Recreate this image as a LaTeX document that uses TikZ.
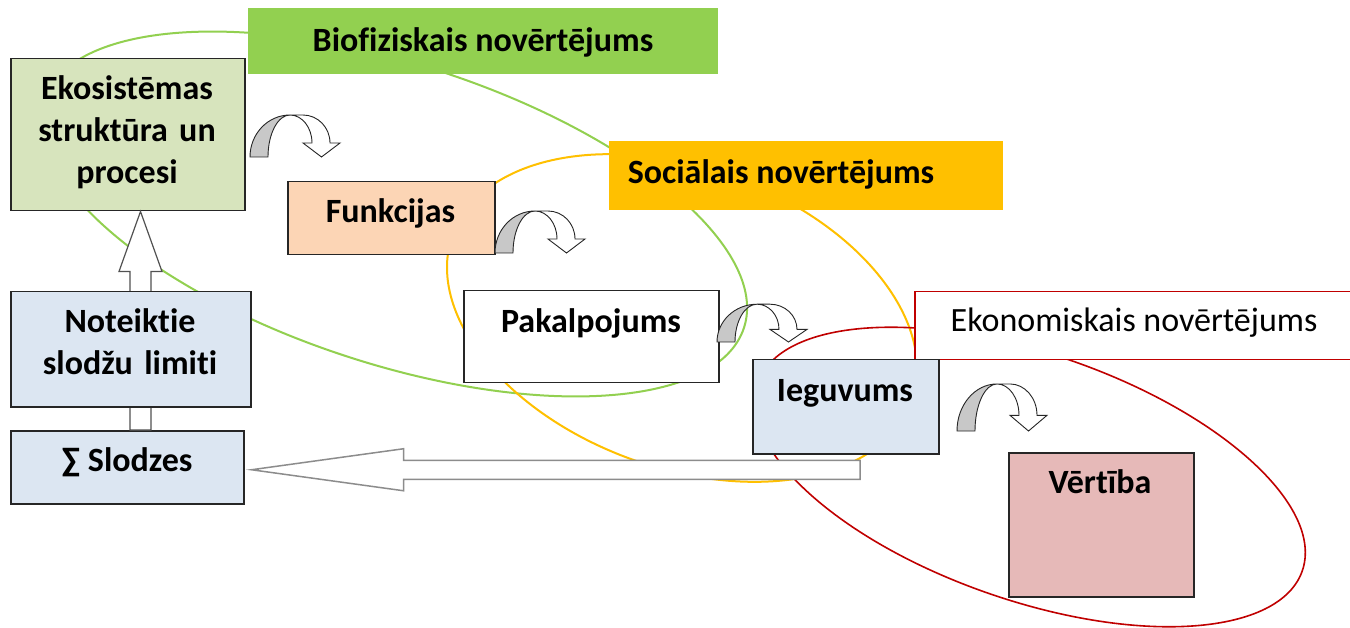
\documentclass[tikz,border=0pt]{standalone}
\usepackage{fontspec}
\setmainfont{Carlito}[Ligatures={NoCommon}]
\usetikzlibrary{calc}

\definecolor{bioG}{HTML}{92D050}
\definecolor{socO}{HTML}{FFC000}
\definecolor{ekoR}{HTML}{C00000}
\definecolor{ekoFill}{HTML}{D7E4BD}
\definecolor{funFill}{HTML}{FCD5B5}
\definecolor{blueFill}{HTML}{DCE6F2}
\definecolor{vertFill}{HTML}{E6B9B8}
\definecolor{edge}{HTML}{262626}
\definecolor{turnGray}{HTML}{C8C8C8}
\definecolor{shaftGray}{HTML}{8C8C8C}

\tikzset{
  box/.style={rectangle, draw=edge, line width=1.5pt, inner sep=0pt, anchor=north west},
  flatbox/.style={rectangle, inner sep=0pt, anchor=north west},
  lbl/.style={font=\bfseries\fontsize{34}{42}\selectfont, inner sep=0pt, anchor=base},
  plainlbl/.style={font=\fontsize{34}{42}\selectfont, inner sep=0pt, anchor=base},
  ring/.style={line width=2pt},
  blockarrow/.style={draw=shaftGray, line width=1.5pt, fill=white, line join=miter},
  turnline/.style={draw=edge, line width=0.9pt},
  turn/.pic={
    % shaded back face of the bent arrow
    \filldraw[turnline, fill=turnGray]
      (0,0) arc[start angle=180, end angle=270, x radius=40, y radius=42]
            arc[start angle=270, end angle=180, x radius=22, y radius=42] -- cycle;
    % front face with its head
    \filldraw[turnline, fill=white]
      (40,-42) -- (53,-42)
      arc[start angle=270, end angle=360, x radius=27, y radius=28]
      -- (90,-14) -- (71.5,0) -- (53,-14) -- (62,-14)
      arc[start angle=0, end angle=-90, x radius=22, y radius=28] -- cycle;
  }
}

\begin{document}
\begin{tikzpicture}[x=1pt, y=-1pt]
\useasboundingbox (0,0) rectangle (1350,628);
\fill[white] (0,0) rectangle (1350,628);

% assessment rings
\draw[ring, bioG, rotate around={-18:(394,214)}] (394,214) ellipse [x radius=368, y radius=150];
\draw[ring, socO, rotate around={-20:(682,318)}] (682,318) ellipse [x radius=244, y radius=150];
\draw[ring, ekoR, line width=1.6pt, rotate around={-19:(1030,477)}] (1030,477) ellipse [x radius=288, y radius=123.5];

% boxes
\node[flatbox, fill=bioG, minimum width=470pt, minimum height=66pt] (bio) at (248,8) {};
\node[flatbox, fill=socO, minimum width=394pt, minimum height=69pt] (soc) at (609,141) {};
\node[box, draw=ekoR, fill=white, minimum width=436pt, minimum height=68pt] (eko-n) at (914,291) {};
\node[box, fill=ekoFill, minimum width=234pt, minimum height=152pt] (eko) at (10,58) {};
\node[box, fill=funFill, minimum width=207pt, minimum height=73pt] (fun) at (287,181) {};
\node[box, fill=white, minimum width=255pt, minimum height=92pt] (pak) at (463,290) {};
\node[box, fill=blueFill, minimum width=186pt, minimum height=94pt] (ieg) at (752,359) {};
\node[box, fill=vertFill, minimum width=185pt, minimum height=144pt] (ver) at (1008,452) {};
\node[box, fill=blueFill, minimum width=233pt, minimum height=73pt] (slo) at (10,430) {};

% load arrows
\coordinate (utip) at (140.5,0 |- eko.south);
\coordinate (utail) at (140.5,0 |- slo.north);
\draw[blockarrow, draw=edge!80, line width=1.2pt]
  (utip) -- ($(utip)+(21.5,60)$) -- ($(utip)+(10.5,60)$) -- ($(utail)+(10.5,0)$)
  -- ($(utail)+(-10.5,0)$) -- ($(utip)+(-10.5,60)$) -- ($(utip)+(-21.5,60)$) -- cycle;
\node[box, fill=blueFill, minimum width=240pt, minimum height=115pt] (lim) at (10,291) {};

\coordinate (ltip) at ($(slo.east)+(7,2.5)$);
\coordinate (ltail) at (860,0 |- ltip);
\draw[blockarrow]
  (ltip) -- ($(ltip)+(152,-21)$) -- ($(ltip)+(152,-9.5)$) -- ($(ltail)+(0,-9.5)$)
  -- ($(ltail)+(0,9.5)$) -- ($(ltip)+(152,9.5)$) -- ($(ltip)+(152,21)$) -- cycle;

% step arrows
\pic at (250,157) {turn};
\pic at (495,253) {turn};
\pic[yscale=0.9] at (717,342) {turn};
\pic[yscale=1.12] at (957,431) {turn};

% labels
\node[lbl] (bio-l) at (483,52) {Biofiziskais novērtējums};
\node[lbl] (soc-l) at (781,184) {Sociālais novērtējums};
\node[plainlbl] (eko-n-l) at (1134,332) {Ekonomiskais novērtējums};
\node[lbl, text width=234pt, align=center] (eko-l) at (127,100) {Ekosistēmas\\struktūra un\\procesi};
\node[lbl] (fun-l) at (390.5,223) {Funkcijas};
\node[lbl] (pak-l) at (591,333) {Pakalpojums};
\node[lbl] (ieg-l) at (845,402) {Ieguvums};
\node[lbl] (ver-l) at (1100,493) {Vērtība};
\node[lbl, text width=240pt, align=center] (lim-l) at (130,333) {Noteiktie\\slodžu limiti};
\node[lbl] (slo-l) at (127,471) {∑ Slodzes};
\end{tikzpicture}
\end{document}
